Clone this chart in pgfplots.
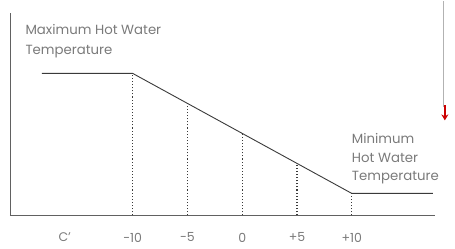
\documentclass[border=0pt]{standalone}
\usepackage{fontspec}
\setmainfont{Poppins}
\usepackage{pgfplots}
\pgfplotsset{compat=1.18}
\usetikzlibrary{arrows.meta}
\definecolor{txt}{HTML}{7A7A7A}
\definecolor{ln}{HTML}{3A3A3A}
\begin{document}
\begin{tikzpicture}
\begin{axis}[
  scale only axis, width=425pt, height=202pt,
  xmin=-21.2, xmax=17.6, ymin=0, ymax=202,
  axis x line=bottom, axis y line=left,
  axis line style={-, draw=ln!80, line width=0.8pt},
  ytick=\empty,
  xtick={-16.2,-10,-5,0,5,10},
  xticklabels={C',-10,-5,0,+5,+10},
  major tick length=0pt,
  x tick label style={font=\fontsize{12.5}{15}\selectfont, text=txt, yshift=-14pt},
  clip=false,
]
\addplot[ln, line width=0.9pt] coordinates {(-18.3,142) (-10,142) (10,22) (17.4,22)};
\addplot[ycomb, ln, dotted, line width=1.1pt] coordinates {(-10,142) (-5,112) (0,82) (5,52) (10,22)};
\node[anchor=north west, align=left, text=txt, font=\fontsize{13.3}{19.5}\selectfont, inner sep=0pt] at (axis cs:-19.8,191) {Maximum Hot Water\\Temperature};
\node[anchor=north west, align=left, text=txt, font=\fontsize{13.3}{18.5}\selectfont, inner sep=0pt] at (axis cs:10.0,82) {Minimum\\Hot Water\\Temperature};
\draw[gray!60, double, double distance=1.8pt, line width=0.5pt] (axis cs:18.5,214) -- (axis cs:18.5,108);
\draw[red!80!black, line width=1.4pt, -{Stealth[length=6pt,width=7pt]}] (axis cs:18.5,110) -- (axis cs:18.5,95);
\end{axis}
\useasboundingbox ([xshift=-10pt,yshift=-33pt]current axis.south west) rectangle ([xshift=20pt,yshift=12pt]current axis.north east);
\end{tikzpicture}
\end{document}
